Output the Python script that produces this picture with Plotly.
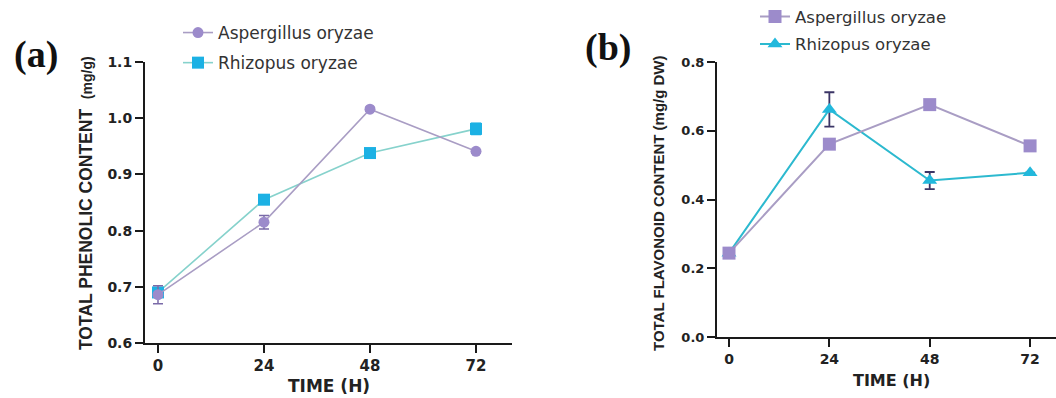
import plotly.graph_objects as go

hours = [0, 24, 48, 72]
x_ticks = [0, 24, 48, 72]

# (a) Total phenolic content (mg/g)
tpc_aspergillus = [0.686, 0.815, 1.016, 0.941]
tpc_aspergillus_err = [0.016, 0.012, 0.003, 0.003]
tpc_rhizopus = [0.690, 0.855, 0.938, 0.981]
tpc_rhizopus_err = [0.004, 0.004, 0.004, 0.010]
tpc_yticks = [0.6, 0.7, 0.8, 0.9, 1.0, 1.1]

# (b) Total flavonoid content (mg/g DW)
tfc_aspergillus = [0.244, 0.561, 0.676, 0.556]
tfc_aspergillus_err = [0.0, 0.0, 0.0, 0.0]
tfc_rhizopus = [0.244, 0.662, 0.455, 0.478]
tfc_rhizopus_err = [0.0, 0.050, 0.025, 0.0]
tfc_yticks = [0.0, 0.2, 0.4, 0.6, 0.8]

W, H = 1056, 398
PURPLE = "#9c8bcb"
PURPLE_LINE = "#a99dc4"
CYAN = "#1cb1e4"
CYAN_LINE_A = "#86d2cc"
CYAN_B = "#22b8dc"
CYAN_LINE_B = "#2cb9cf"
ERR_DARK = "#3b3566"
TXT = "#222222"

def px(x):
    return x / W

def py(y):
    return 1 - y / H

fig = go.Figure()

# Panel (a)
fig.add_trace(go.Scatter(
    x=hours, y=tpc_rhizopus, name="Rhizopus oryzae", mode="lines+markers",
    line=dict(color=CYAN_LINE_A, width=1.6),
    marker=dict(symbol="square", size=12, color=CYAN),
    error_y=dict(type="data", array=tpc_rhizopus_err, color=CYAN, thickness=1.5, width=5),
    xaxis="x", yaxis="y", legend="legend", legendrank=2, legendgroup="ra"))
fig.add_trace(go.Scatter(
    x=hours, y=tpc_aspergillus, name="Aspergillus oryzae", mode="lines+markers",
    line=dict(color=PURPLE_LINE, width=1.6),
    marker=dict(symbol="circle", size=11, color=PURPLE),
    error_y=dict(type="data", array=tpc_aspergillus_err, color="#7a6aa8", thickness=1.5, width=5),
    xaxis="x", yaxis="y", legend="legend", legendrank=1, legendgroup="aa"))

# Panel (b)
fig.add_trace(go.Scatter(
    x=hours, y=tfc_rhizopus, name="Rhizopus oryzae", mode="lines+markers",
    line=dict(color=CYAN_LINE_B, width=2),
    marker=dict(symbol="triangle-up", size=13, color=CYAN_B),
    error_y=dict(type="data", array=tfc_rhizopus_err, color=ERR_DARK, thickness=1.8, width=5),
    xaxis="x2", yaxis="y2", legend="legend2", legendrank=2, legendgroup="rb"))
fig.add_trace(go.Scatter(
    x=hours, y=tfc_aspergillus, name="Aspergillus oryzae", mode="lines+markers",
    line=dict(color=PURPLE_LINE, width=2),
    marker=dict(symbol="square", size=13, color=PURPLE),
    error_y=dict(type="data", array=tfc_aspergillus_err, color=ERR_DARK, thickness=1.5, width=5),
    xaxis="x2", yaxis="y2", legend="legend2", legendrank=1, legendgroup="ab"))

axis_common = dict(showline=True, linecolor="#1a1a1a", linewidth=2, ticks="outside",
                   ticklen=8, tickwidth=2, tickcolor="#1a1a1a", showgrid=False,
                   zeroline=False, mirror=False, automargin=False)

fig.update_layout(
    width=W, height=H, margin=dict(l=0, r=0, t=0, b=0, autoexpand=False),
    paper_bgcolor="white", plot_bgcolor="white",
    xaxis=dict(domain=[px(145), px(512)], range=[-2.94, 80.15], tickvals=x_ticks,
               tickfont=dict(family="DejaVu Sans", size=15, color=TXT, weight="bold"),
               anchor="y", **axis_common),
    yaxis=dict(domain=[py(343), py(62)], range=[0.6, 1.1], tickvals=tpc_yticks, tickformat=".1f",
               tickfont=dict(family="DejaVu Sans", size=14, color=TXT, weight="bold"),
               anchor="x", **axis_common),
    xaxis2=dict(domain=[px(717), 1.0], range=[-2.87, 78.2], tickvals=x_ticks,
                tickfont=dict(family="DejaVu Sans", size=14, color=TXT, weight="bold"),
                anchor="y2", **axis_common),
    yaxis2=dict(domain=[py(337), py(62)], range=[0, 0.8], tickvals=tfc_yticks, tickformat=".1f",
                tickfont=dict(family="DejaVu Sans", size=13, color=TXT, weight="bold"),
                anchor="x2", **axis_common),
    legend=dict(x=px(178), y=py(15), xanchor="left", yanchor="top", bgcolor="rgba(0,0,0,0)",
                font=dict(family="DejaVu Sans", size=17, color="#333333"),
                traceorder="grouped", tracegroupgap=5),
    legend2=dict(x=px(755), y=1.002, xanchor="left", yanchor="top", bgcolor="rgba(0,0,0,0)",
                 font=dict(family="DejaVu Sans", size=16.5, color="#333333"),
                 traceorder="grouped", tracegroupgap=3),
    showlegend=True,
)

annotations = [
    dict(text="(a)", x=px(36), y=py(54), font=dict(family="Liberation Serif", size=38, color="#111111", weight="bold")),
    dict(text="(b)", x=px(608), y=py(48), font=dict(family="Liberation Serif", size=38, color="#111111", weight="bold")),
    dict(text="TOTAL PHENOLIC CONTENT  <span style='font-size:14px'>(mg/g)</span>", x=px(86), y=py(203), textangle=-90,
         font=dict(family="Liberation Sans", size=17.5, color=TXT, weight="bold")),
    dict(text="TOTAL FLAVONOID CONTENT (mg/g DW)", x=px(658), y=py(203), textangle=-90,
         font=dict(family="Liberation Sans", size=15, color=TXT, weight="bold")),
    dict(text="TIME (H)", x=px(329), y=py(386), font=dict(family="DejaVu Sans", size=17, color=TXT, weight="bold")),
    dict(text="TIME (H)", x=px(891), y=py(380), font=dict(family="DejaVu Sans", size=16, color=TXT, weight="bold")),
]
for a in annotations:
    a.update(xref="paper", yref="paper", showarrow=False, xanchor="center", yanchor="middle")
fig.update_layout(annotations=annotations)

fig.write_html("out.html", config={"displayModeBar": False},
               post_script="document.body.style.margin='0';document.body.style.overflow='hidden';")
